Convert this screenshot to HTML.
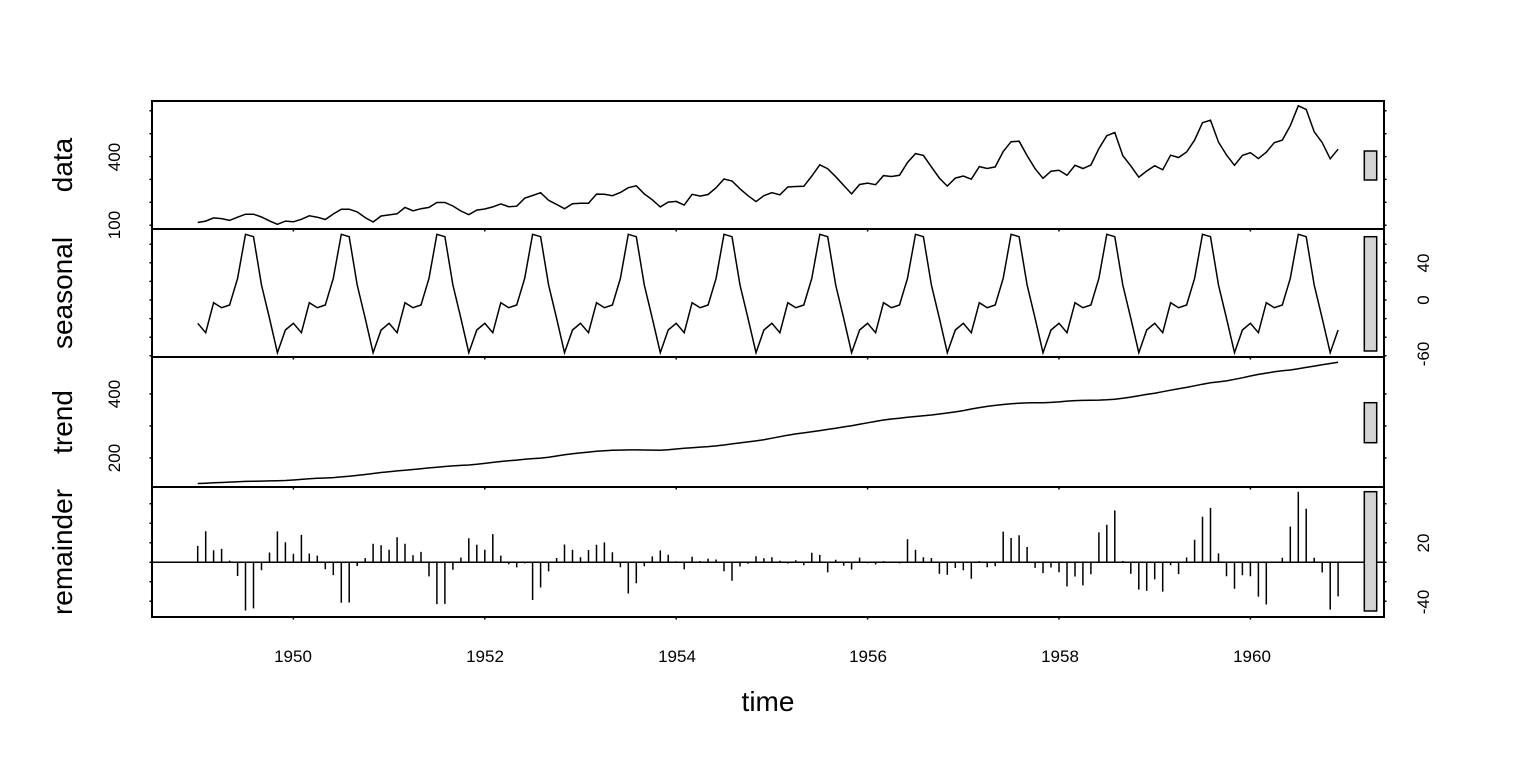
<!DOCTYPE html>
<html><head><meta charset="utf-8"><style>
html,body{margin:0;padding:0;background:#fff}
svg{display:block}
text{font-family:"Liberation Sans",sans-serif;fill:#000}
</style></head><body>
<svg id="s" width="1536" height="768" xmlns="http://www.w3.org/2000/svg">
<rect x="0" y="0" width="1536" height="768" fill="#fff"/>
<g id="plot" fill="none" stroke="#000" stroke-width="1.5"></g>
<g font-size="17" text-anchor="middle">
<text transform="translate(120,225) rotate(-90)">100</text>
<text transform="translate(120,157) rotate(-90)">400</text>
<text transform="translate(1429,263) rotate(-90)">40</text>
<text transform="translate(1429,300) rotate(-90)">0</text>
<text transform="translate(1429,354) rotate(-90)">-60</text>
<text transform="translate(120,458) rotate(-90)">200</text>
<text transform="translate(120,394) rotate(-90)">400</text>
<text transform="translate(1429,543) rotate(-90)">20</text>
<text transform="translate(1429,602) rotate(-90)">-40</text>
<text x="293" y="662">1950</text>
<text x="485" y="662">1952</text>
<text x="677" y="662">1954</text>
<text x="868" y="662">1956</text>
<text x="1060" y="662">1958</text>
<text x="1252" y="662">1960</text>
</g>
<g font-size="28" text-anchor="middle">
<text transform="translate(72,165) rotate(-90)">data</text>
<text transform="translate(72,293) rotate(-90)">seasonal</text>
<text transform="translate(72,422) rotate(-90)">trend</text>
<text transform="translate(72,552) rotate(-90)">remainder</text>
<text x="768" y="711">time</text>
</g>
</svg>
<script>
var d=[112,118,132,129,121,135,148,148,136,119,104,118,115,126,141,135,125,149,170,170,158,133,114,140,145,150,178,163,172,178,199,199,184,162,146,166,171,180,193,181,183,218,230,242,209,191,172,194,196,196,236,235,229,243,264,272,237,211,180,201,204,188,235,227,234,264,302,293,259,229,203,229,242,233,267,269,270,315,364,347,312,274,237,278,284,277,317,313,318,374,413,405,355,306,271,306,315,301,356,348,355,422,465,467,404,347,305,336,340,318,362,348,363,435,491,505,404,359,310,337,360,342,406,396,420,472,548,559,463,407,362,405,417,391,419,461,472,535,622,606,508,461,390,432];
var sp=[323.3,332.7,302.7,307.7,305,278.3,234.3,236.7,285,318.3,352.7,330];
var n=d.length,X=function(i){return 197.7+i*7.975;};
var tr=[];for(var i=0;i<n;i++)tr.push(null);
for(var i=6;i<n-6;i++){var s=0.5*d[i-6]+0.5*d[i+6];for(var k=-5;k<=5;k++)s+=d[i+k];tr[i]=s/12;}
var s0=(tr[17]-tr[6])/11;for(var i=5;i>=0;i--)tr[i]=tr[i+1]-s0;
var s1=(tr[n-7]-tr[n-18])/11;for(var i=n-6;i<n;i++)tr[i]=tr[i-1]+s1;
var g=document.getElementById('plot'),h='';
function P(a){return '<path d="M'+a.join('L')+'"/>';}
var a=[];for(var i=0;i<n;i++)a.push(X(i).toFixed(1)+','+(225.2-(d[i]-100)*0.2288).toFixed(1));h+=P(a);
a=[];for(var i=0;i<n;i++)a.push(X(i).toFixed(1)+','+sp[i%12]);h+=P(a);
a=[];for(var i=0;i<n;i++)a.push(X(i).toFixed(1)+','+(458-(tr[i]-200)*0.32).toFixed(1));h+=P(a);
var r='';for(var i=0;i<n;i++){var sv=(300-sp[i%12])/0.93;var rv=d[i]-sv-tr[i];r+='M'+X(i).toFixed(1)+',562.3V'+(562.3-rv*0.975).toFixed(1);}
h+='<path d="'+r+'"/>';
h+='<path d="M152,562.3H1384"/>';
[[101,229],[229,357],[357,487],[487,617]].forEach(function(p){h+='<rect x="152" y="'+p[0]+'" width="1232" height="'+(p[1]-p[0])+'" stroke-width="2"/>';});
h+='<g fill="#d3d3d3"><rect x="1364.3" y="151" width="12.4" height="29"/><rect x="1364.3" y="236.7" width="12.4" height="114.3"/><rect x="1364.3" y="402.7" width="12.4" height="40"/><rect x="1364.3" y="491.7" width="12.4" height="119.3"/></g>';
var t='';
function tk(y){t+='M152,'+y+'h-2.5M1384,'+y+'h2.5';}
[100,200,300,400,500,600].forEach(function(v){tk((225.2-(v-100)*0.2288).toFixed(1));});
[60,40,20,0,-20,-40,-60].forEach(function(v){tk((300-v*0.93).toFixed(1));});
[200,300,400].forEach(function(v){tk((458-(v-200)*0.32).toFixed(1));});
[60,40,20,0,-20,-40].forEach(function(v){tk((562.3-v*0.975).toFixed(1));});
for(var yr=1950;yr<=1960;yr+=2){var x=(197.7+(yr-1949)*95.7).toFixed(1);[229,357,487,617].forEach(function(y){t+='M'+x+','+y+'v2.5';});}
h+='<path d="'+t+'"/>';
g.innerHTML=h;
</script>
</body></html>
